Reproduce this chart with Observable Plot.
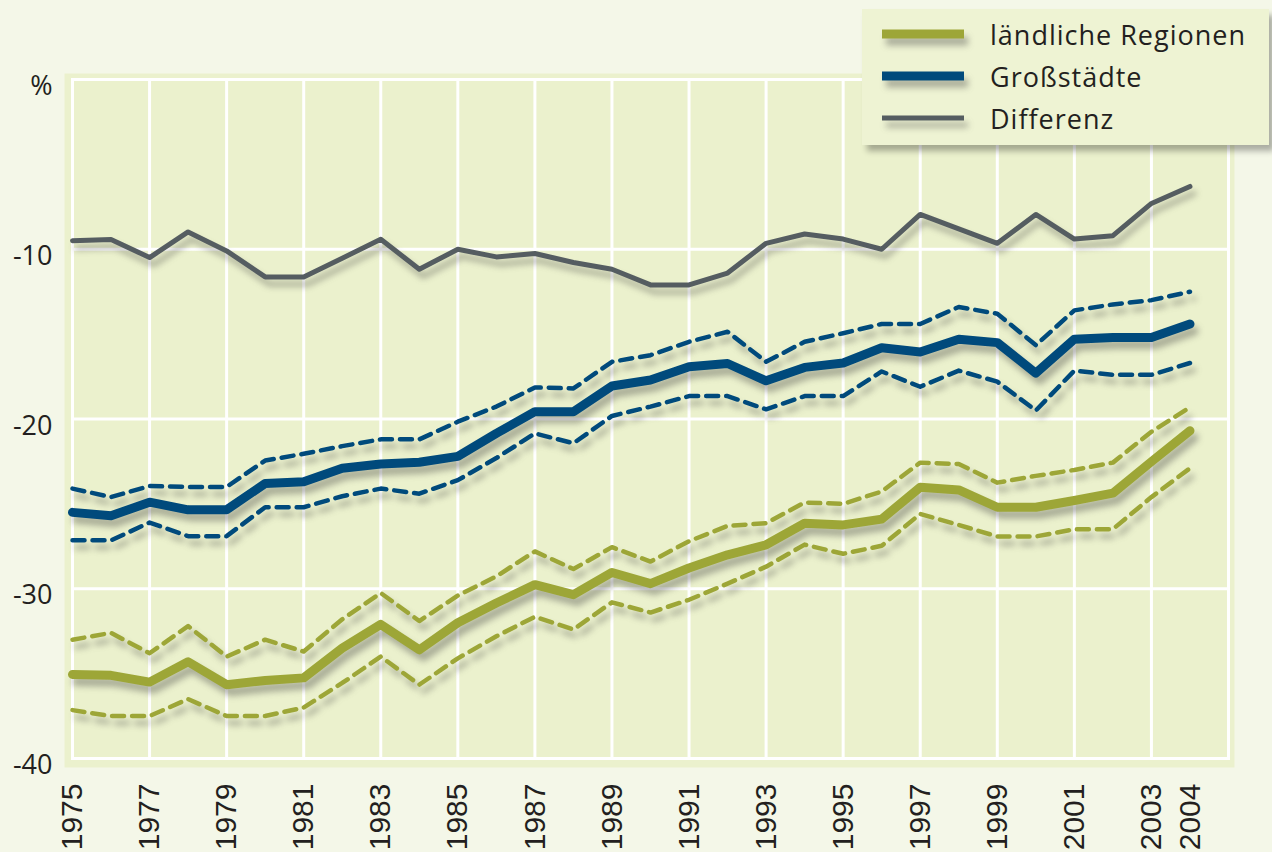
<!DOCTYPE html>
<html><head><meta charset="utf-8">
<script src="https://cdn.jsdelivr.net/npm/d3@7"></script>
<script src="https://cdn.jsdelivr.net/npm/@observablehq/plot@0.6"></script>
<style>
html,body{margin:0;padding:0;background:#f4f7e8;overflow:hidden;}
#wrap{position:relative;width:1272px;height:852px;}
#legend{position:absolute;left:862px;top:9px;width:407px;height:136px;background:#eef3d3;box-shadow:5px 6px 6px rgba(0,0,0,0.3);}
</style></head>
<body><div id="wrap"><div id="chart"></div><div id="legend"></div></div>
<script>
const years = [1975,1976,1977,1978,1979,1980,1981,1982,1983,1984,1985,1986,1987,1988,1989,1990,1991,1992,1993,1994,1995,1996,1997,1998,1999,2000,2001,2002,2003,2004];
const xTickYears = [1975,1977,1979,1981,1983,1985,1987,1989,1991,1993,1995,1997,1999,2001,2003,2004];
const gridYears = [1977,1979,1981,1983,1985,1987,1989,1991,1993,1995,1997,1999,2001,2003];
const yTicks = [0,-10,-20,-30,-40];
const seriesNames = ["ländliche Regionen","Großstädte","Differenz"];

const differenz = [-9.5,-9.43,-10.49,-8.98,-10.1,-11.63,-11.63,-10.53,-9.41,-11.18,-10.0,-10.45,-10.25,-10.78,-11.18,-12.1,-12.1,-11.4,-9.65,-9.1,-9.4,-10.0,-7.95,-8.8,-9.65,-7.95,-9.4,-9.2,-7.3,-6.3];
const grossMain = [-25.5,-25.7,-24.9,-25.35,-25.35,-23.8,-23.7,-22.9,-22.65,-22.55,-22.2,-20.85,-19.57,-19.57,-18.06,-17.7,-16.92,-16.73,-17.75,-16.96,-16.7,-15.8,-16.05,-15.3,-15.5,-17.3,-15.3,-15.2,-15.2,-14.4];
const grossUpper = [-24.1,-24.6,-23.95,-24.0,-24.0,-22.45,-22.05,-21.6,-21.2,-21.2,-20.16,-19.27,-18.14,-18.2,-16.63,-16.24,-15.45,-14.86,-16.63,-15.45,-14.95,-14.4,-14.4,-13.4,-13.8,-15.65,-13.6,-13.25,-13.0,-12.5];
const grossLower = [-27.15,-27.15,-26.1,-26.9,-26.9,-25.2,-25.2,-24.55,-24.1,-24.4,-23.6,-22.3,-20.85,-21.43,-19.82,-19.27,-18.65,-18.65,-19.43,-18.65,-18.65,-17.2,-18.1,-17.15,-17.8,-19.5,-17.15,-17.4,-17.4,-16.7];
const landMain = [-35.05,-35.1,-35.5,-34.3,-35.65,-35.4,-35.25,-33.5,-32.1,-33.6,-32.0,-30.84,-29.76,-30.35,-29.04,-29.7,-28.78,-28.0,-27.41,-26.14,-26.24,-25.9,-24.02,-24.18,-25.2,-25.2,-24.8,-24.37,-22.51,-20.69];
const landUpper = [-33.0,-32.6,-33.8,-32.2,-34.0,-33.0,-33.7,-31.8,-30.25,-31.9,-30.4,-29.27,-27.8,-28.84,-27.55,-28.4,-27.2,-26.3,-26.14,-24.92,-25.0,-24.27,-22.57,-22.65,-23.75,-23.35,-23.0,-22.57,-20.75,-19.31];
const landLower = [-37.15,-37.5,-37.5,-36.5,-37.5,-37.5,-37.0,-35.55,-34.0,-35.65,-34.1,-32.8,-31.65,-32.4,-30.8,-31.4,-30.65,-29.7,-28.7,-27.4,-27.94,-27.47,-25.59,-26.24,-26.92,-26.92,-26.49,-26.49,-24.6,-22.9];

const GREEN = "#9da637", BLUE = "#004a7c", GRAY = "#555d61";
const colors = [GREEN, BLUE, GRAY];
const widths = [9, 9, 5];
const SHADOW = "drop-shadow(4px 7px 3px rgba(60,60,60,0.38))";

const dash = "12,8";
const chart = Plot.plot({
  width: 1272, height: 852,
  marginLeft: 72, marginRight: 44, marginTop: 79, marginBottom: 94,
  style: {background: "transparent", overflow: "visible"},
  x: {domain: [1975, 2005], label: null},
  y: {domain: [-40, 0], label: null},
  marks: [
    Plot.frame({fill: "#ebf1cd", insetLeft: -8, insetRight: -6, insetTop: -6, insetBottom: -9}),
    Plot.gridX(gridYears, {stroke: "white", strokeOpacity: 1, strokeWidth: 3}),
    Plot.gridY([-10, -20, -30], {stroke: "white", strokeOpacity: 1, strokeWidth: 3}),
    Plot.frame({stroke: "white", strokeWidth: 3}),
    Plot.axisX(xTickYears, {tickFormat: d => String(d), tickRotate: -90, tickSize: 0, tickPadding: 25,
      fontSize: 30, fontFamily: "Liberation Sans, Arial, sans-serif", fill: "#231f20", label: null}),
    Plot.axisY(yTicks, {tickFormat: d => d === 0 ? "%" : String(d), tickSize: 0, tickPadding: 20, dy: 7,
      fontSize: 27, fontFamily: "Open Sans, sans-serif", fill: "#231f20", label: null}),
    Plot.line(years, {x: years, y: grossUpper, stroke: BLUE, strokeWidth: 4.5, strokeDasharray: dash}),
    Plot.line(years, {x: years, y: grossLower, stroke: BLUE, strokeWidth: 4.5, strokeDasharray: dash}),
    Plot.line(years, {x: years, y: landUpper, stroke: GREEN, strokeWidth: 4.5, strokeDasharray: dash}),
    Plot.line(years, {x: years, y: landLower, stroke: GREEN, strokeWidth: 4.5, strokeDasharray: dash}),
    Plot.line(years, {x: years, y: landMain, stroke: GREEN, strokeWidth: widths[0]}),
    Plot.line(years, {x: years, y: grossMain, stroke: BLUE, strokeWidth: widths[1]}),
    Plot.line(years, {x: years, y: differenz, stroke: GRAY, strokeWidth: widths[2]})
  ]
});
chart.querySelectorAll('g[aria-label="line"]').forEach(g => {
  g.style.filter = SHADOW;
});
document.getElementById("chart").appendChild(chart);

// legend
const lg = d3.select("#legend").append("svg").attr("width", 407).attr("height", 136);
const rowsY = [25, 67, 109];
seriesNames.forEach((name, i) => {
  lg.append("line").attr("x1", 20).attr("x2", 102).attr("y1", rowsY[i]).attr("y2", rowsY[i])
    .attr("stroke", colors[i]).attr("stroke-width", widths[i])
    .style("filter", SHADOW);
  lg.append("text").attr("x", 128).attr("y", rowsY[i] + 11).text(name)
    .attr("font-family", "Open Sans, sans-serif").attr("font-size", 27)
    .attr("letter-spacing", 1).attr("fill", "#231f20");
});
</script>
</body></html>
